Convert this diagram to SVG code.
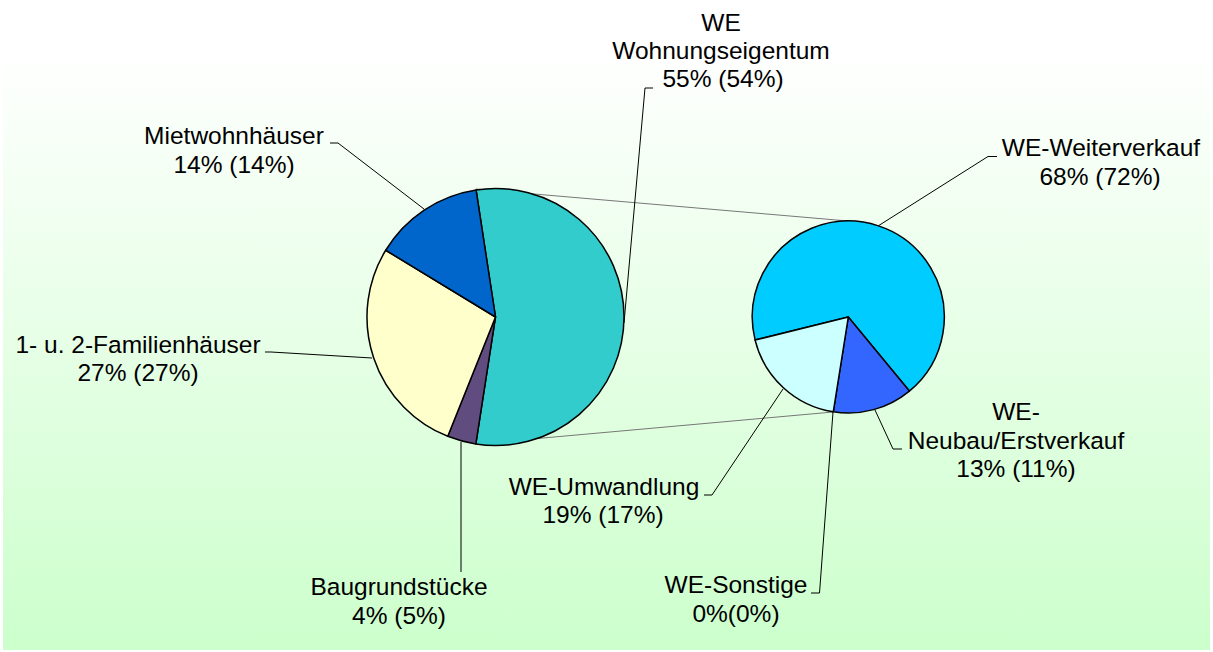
<svg xmlns="http://www.w3.org/2000/svg" width="1213" height="652" viewBox="0 0 1213 652">
<defs>
<linearGradient id="bg" x1="0" y1="0" x2="0" y2="1">
<stop offset="0" stop-color="#FFFFFF"/>
<stop offset="1" stop-color="#CCFFCC"/>
</linearGradient>
</defs>
<style>
.t{font-family:"Liberation Sans",Arial,sans-serif;font-size:24.5px;fill:#000;text-anchor:middle}
.s{stroke:#000;stroke-width:1.5;stroke-linejoin:round}
.ld{fill:none;stroke:#000;stroke-width:1}
.cn{fill:none;stroke:#777;stroke-width:1}
</style>
<rect x="0" y="0" width="1213" height="652" fill="#FFFFFF"/>
<rect x="3" y="48" width="1207" height="602" fill="url(#bg)"/>
<g id="connectors">
<line class="cn" x1="476" y1="189" x2="848" y2="221"/>
<line class="cn" x1="476" y1="444" x2="833" y2="412"/>
<polyline class="ld" points="330,143 338,143 424,209"/>
<polyline class="ld" points="265,352 271,352 372,358"/>
<polyline class="ld" points="653,88 645,88 624,323"/>
<polyline class="ld" points="461,442 461,572"/>
<polyline class="ld" points="997,156.5 988,156.5 878,226"/>
<polyline class="ld" points="902,449 893,449 875,410"/>
<polyline class="ld" points="704,495 712,495 783,389"/>
<polyline class="ld" points="811,593 819.5,593 833,412"/>
</g>
<g id="pie-main">
<path id="slice-we" class="s" fill="#33CCCC" d="M495.5,317 L476.06,189.98 A128.5,128.5 0 1 1 475.84,443.98 Z"/>
<path id="slice-baugrund" class="s" fill="#604C7E" d="M495.5,317 L475.84,443.98 A128.5,128.5 0 0 1 447.77,436.31 Z"/>
<path id="slice-familien" class="s" fill="#FFFFCC" d="M495.5,317 L447.77,436.31 A128.5,128.5 0 0 1 385.70,250.24 Z"/>
<path id="slice-miet" class="s" fill="#0066CC" d="M495.5,317 L385.70,250.24 A128.5,128.5 0 0 1 476.06,189.98 Z"/>
</g>
<g id="pie-we">
<path id="slice-weiter" class="s" fill="#00CCFF" d="M848.3,317 L755.11,340.06 A96,96 0 1 1 909.37,391.07 Z"/>
<path id="slice-neubau" class="s" fill="#3366FF" d="M848.3,317 L909.37,391.07 A96,96 0 0 1 833.28,411.82 Z"/>
<path id="slice-umw" class="s" fill="#CCFFFF" d="M848.3,317 L833.28,411.82 A96,96 0 0 1 755.11,340.06 Z"/>
</g>
<g id="label-we">
<text class="t" x="721" y="31">WE</text>
<text class="t" x="721" y="59">Wohnungseigentum</text>
<text class="t" x="723" y="87">55% (54%)</text>
</g>
<g id="label-miet">
<text class="t" x="234" y="144">Mietwohnhäuser</text>
<text class="t" x="234" y="173">14% (14%)</text>
</g>
<g id="label-familien">
<text class="t" x="138" y="353">1- u. 2-Familienhäuser</text>
<text class="t" x="138" y="381">27% (27%)</text>
</g>
<g id="label-baugrund">
<text class="t" x="399" y="595">Baugrundstücke</text>
<text class="t" x="399" y="624">4% (5%)</text>
</g>
<g id="label-weiter">
<text class="t" x="1101" y="156">WE-Weiterverkauf</text>
<text class="t" x="1100" y="185">68% (72%)</text>
</g>
<g id="label-neubau">
<text class="t" x="1016" y="420">WE-</text>
<text class="t" x="1016" y="449">Neubau/Erstverkauf</text>
<text class="t" x="1016" y="477">13% (11%)</text>
</g>
<g id="label-umw">
<text class="t" x="604" y="495">WE-Umwandlung</text>
<text class="t" x="603" y="523">19% (17%)</text>
</g>
<g id="label-sonstige">
<text class="t" x="736" y="593">WE-Sonstige</text>
<text class="t" x="736" y="622">0%(0%)</text>
</g>
</svg>
